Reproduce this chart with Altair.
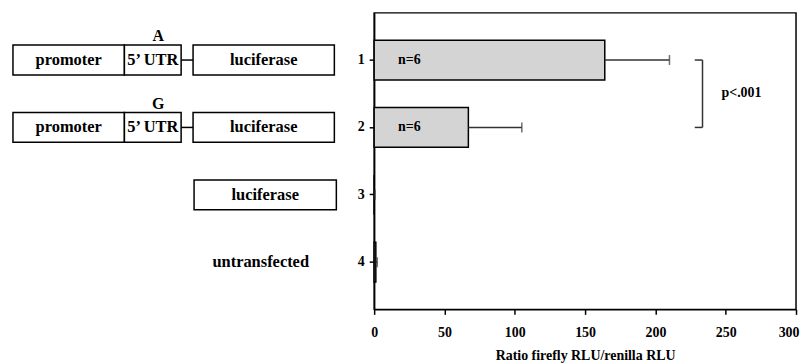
import altair as alt
import pandas as pd

# ---- bar chart data ----
categories = ["1", "2", "3", "4"]
ratio_mean = [164, 67, 0, 1.2]
ratio_err_hi = [210, 105, 0.6, 2.2]
n_labels = ["n=6", "n=6", "", ""]

# ---- construct diagram data (schematic segment extents, arbitrary units) ----
seg_row = ["1", "1", "1", "2", "2", "2", "3"]
seg_text = ["promoter", "5\u2019 UTR", "luciferase", "promoter", "5\u2019 UTR", "luciferase", "luciferase"]
seg_start = [0, 112, 181, 0, 112, 181, 182]
seg_end = [112, 169, 323, 112, 169, 323, 325]
link_row = ["1", "2"]
link_start = [169, 169]
link_end = [181, 181]
allele_row = ["1", "2"]
allele_text = ["A", "G"]
allele_pos = [146, 146]
plain_row = ["4"]
plain_text = ["untransfected"]
plain_pos = [249]

sig_rows = ["1", "2"]
p_text = "p<.001"
x_ticks = [0, 50, 100, 150, 200, 250, 300]

FONT = "Liberation Serif"

bars = pd.DataFrame({"cat": categories, "mean": ratio_mean, "hi": ratio_err_hi, "n": n_labels})
segs = pd.DataFrame({"row": seg_row, "label": seg_text, "start": seg_start, "end": seg_end,
                     "mid": [(a + b) / 2 for a, b in zip(seg_start, seg_end)]})
links = pd.DataFrame({"row": link_row, "start": link_start, "end": link_end})
alleles = pd.DataFrame({"row": allele_row, "label": allele_text, "pos": allele_pos})
plains = pd.DataFrame({"row": plain_row, "label": plain_text, "pos": plain_pos})
sig = pd.DataFrame({"row": sig_rows})

yscale = alt.Scale(domain=categories, paddingInner=0.41, paddingOuter=0.405)
H = 298

# ---- left: construct diagram ----
dx = alt.Scale(domain=[0, 325], nice=False, zero=False)
box = alt.Chart(segs).mark_bar(size=30, fill="white", stroke="black", strokeWidth=1.5).encode(
    x=alt.X("start:Q", scale=dx, axis=None),
    x2="end:Q",
    y=alt.Y("row:N", scale=yscale, axis=None),
)
box_txt = alt.Chart(segs).mark_text(font=FONT, fontWeight="bold", fontSize=16.5, color="black").encode(
    x=alt.X("mid:Q", scale=dx, axis=None),
    y=alt.Y("row:N", scale=yscale, axis=None),
    text="label:N",
)
link = alt.Chart(links).mark_rule(color="black", strokeWidth=1.5).encode(
    x=alt.X("start:Q", scale=dx, axis=None),
    x2="end:Q",
    y=alt.Y("row:N", scale=yscale, axis=None),
)
allele = alt.Chart(alleles).mark_text(font=FONT, fontWeight="bold", fontSize=16, color="black", dy=-24).encode(
    x=alt.X("pos:Q", scale=dx, axis=None),
    y=alt.Y("row:N", scale=yscale, axis=None),
    text="label:N",
)
plain = alt.Chart(plains).mark_text(font=FONT, fontWeight="bold", fontSize=16.5, color="black").encode(
    x=alt.X("pos:Q", scale=dx, axis=None),
    y=alt.Y("row:N", scale=yscale, axis=None),
    text="label:N",
)
left = alt.layer(box, link, box_txt, allele, plain).properties(width=325, height=H)

# ---- right: bar chart ----
xs = alt.Scale(domain=[0, 300], nice=False)
xaxis = alt.Axis(
    values=x_ticks, title="Ratio firefly RLU/renilla RLU",
    grid=False, tickSize=5, labelPadding=11, titlePadding=9, labelFlush=False,
    labelAlign={"condition": {"test": "datum.value == 300", "value": "right"}, "value": "center"},
    labelOffset={"condition": {"test": "datum.value == 300", "value": 3}, "value": 0},
)
yaxis = alt.Axis(title=None, tickSize=5, labelPadding=5, labelAngle=0, grid=False)

bar = alt.Chart(bars).mark_bar(fill="#d4d4d4", stroke="black", strokeWidth=1.5).encode(
    x=alt.X("mean:Q", scale=xs, axis=xaxis),
    y=alt.Y("cat:N", scale=yscale, axis=yaxis),
)
err = alt.Chart(bars).mark_rule(color="#333333", strokeWidth=1.5).encode(
    x=alt.X("mean:Q", scale=xs), x2="hi:Q",
    y=alt.Y("cat:N", scale=yscale),
)
cap = alt.Chart(bars).mark_tick(color="#333333", size=10, thickness=1.5, orient="vertical").encode(
    x=alt.X("hi:Q", scale=xs),
    y=alt.Y("cat:N", scale=yscale),
)
ntxt = alt.Chart(bars).mark_text(font=FONT, fontWeight="bold", fontSize=14, color="black", align="left", dx=24).encode(
    x=alt.datum(0),
    y=alt.Y("cat:N", scale=yscale),
    text="n:N",
)
vline = alt.Chart(pd.DataFrame({"a": [sig_rows[0]], "b": [sig_rows[1]]})).mark_rule(
    color="#333333", strokeWidth=1.5).encode(
    x=alt.datum(233.5),
    y=alt.Y("a:N", scale=yscale),
    y2="b:N",
)
hticks = alt.Chart(sig).mark_rule(color="#333333", strokeWidth=1.5).encode(
    x=alt.datum(228),
    x2=alt.datum(233.5),
    y=alt.Y("row:N", scale=yscale),
)
ptxt = alt.Chart(pd.DataFrame({"row": [sig_rows[0]], "t": [p_text]})).mark_text(
    font=FONT, fontWeight="bold", fontSize=14, color="black", align="left", dy=33).encode(
    x=alt.datum(247),
    y=alt.Y("row:N", scale=yscale),
    text="t:N",
)
right = alt.layer(bar, err, cap, ntxt, vline, hticks, ptxt).properties(
    width=424, height=H,
    view=alt.ViewBackground(stroke="black", strokeWidth=1.5),
)

chart = alt.hconcat(left, right, spacing=19).properties(
    padding={"left": 4, "top": 3, "right": 0, "bottom": 0}
).configure_view(stroke=None).configure_axis(
    labelFont=FONT, titleFont=FONT, labelFontWeight="bold", titleFontWeight="bold",
    labelFontSize=14, titleFontSize=14, labelColor="black", titleColor="black",
    domainColor="black", tickColor="black", domainWidth=1.5, tickWidth=1.5,
)

chart.save("out.html", embed_options={"renderer": "svg", "actions": False})
